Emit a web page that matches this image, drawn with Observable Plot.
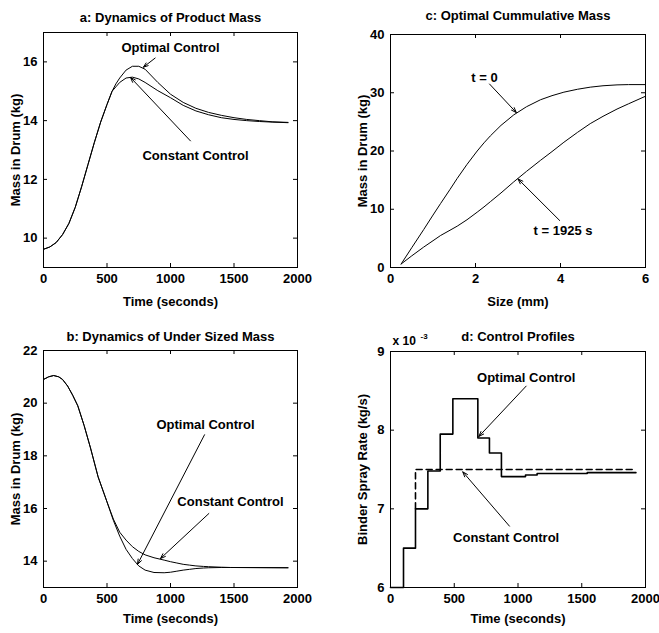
<!DOCTYPE html>
<html><head><meta charset="utf-8">
<script src="https://cdn.jsdelivr.net/npm/d3@7"></script>
<script src="https://cdn.jsdelivr.net/npm/@observablehq/plot@0.6"></script>
<style>
body{margin:0;background:#fff;}
#chart{position:relative;width:659px;height:633px;font-family:"Liberation Sans",Arial,sans-serif;}
</style></head><body><div id="chart"></div>
<script>
// ---------- Panel a: Dynamics of Product Mass ----------
const timeA = [0,50,100,150,200,250,300,350,400,450,500,540,570,600,650,700,750,800,900,1000,1100,1200,1300,1400,1500,1600,1700,1800,1925];
const massA_optimal = [9.62,9.70,9.85,10.12,10.5,11.05,11.75,12.5,13.25,13.95,14.55,15.0,15.25,15.45,15.72,15.85,15.85,15.75,15.3,14.9,14.62,14.42,14.28,14.18,14.1,14.04,14.0,13.96,13.94];
const massA_constant = [9.62,9.70,9.85,10.12,10.5,11.05,11.75,12.5,13.25,13.95,14.55,15.0,15.15,15.3,15.45,15.48,15.42,15.3,15.02,14.78,14.52,14.33,14.2,14.1,14.04,14.0,13.97,13.95,13.93];
const ticksTime = [0,500,1000,1500,2000];
const ticksA_y = [10,12,14,16];

// ---------- Panel b: Dynamics of Under Sized Mass ----------
const timeB = [0,40,80,120,150,190,230,270,320,370,430,500,550,600,650,700,750,800,870,950,1000,1050,1100,1150,1200,1260,1300,1400,1472,1925];
const massB_optimal = [20.9,21.0,21.05,21.0,20.9,20.65,20.3,19.9,19.15,18.3,17.2,16.25,15.55,14.95,14.45,14.1,13.82,13.66,13.57,13.56,13.58,13.62,13.66,13.69,13.72,13.74,13.75,13.76,13.76,13.75];
const massB_constant = [20.9,21.0,21.05,21.0,20.9,20.65,20.3,19.9,19.15,18.3,17.2,16.25,15.6,15.1,14.8,14.55,14.37,14.24,14.13,14.04,13.98,13.93,13.88,13.85,13.82,13.8,13.79,13.77,13.76,13.75];
const ticksB_y = [14,16,18,20,22];

// ---------- Panel c: Optimal Cummulative Mass ----------
const sizeC = [0.25,0.5,0.78,1.0,1.18,1.4,1.57,1.8,2.04,2.2,2.35,2.6,2.9,3.2,3.53,3.8,4.08,4.4,4.7,5.0,5.33,5.6,6.0];
const massC_t0 = [0.6,3.4,6.5,9.0,11.0,13.4,15.3,17.7,20.0,21.4,22.6,24.4,26.2,27.6,28.8,29.5,30.1,30.6,30.96,31.2,31.35,31.4,31.4];
const massC_t1925 = [0.6,2.0,3.5,4.6,5.5,6.4,7.1,8.2,9.5,10.4,11.3,12.8,14.7,16.5,18.4,19.9,21.5,23.2,24.7,25.95,27.2,28.1,29.4];
const ticksC_x = [0,2,4,6];
const ticksC_y = [0,10,20,30,40];

// ---------- Panel d: Control Profiles (x 10^-3 kg/s) ----------
const timeD_optimal = [0,102,196,293,390,489,685,776,870,1059,1150,1543,1925];
const rateD_optimal = [6.0,6.5,7.0,7.48,7.95,8.4,7.9,7.71,7.41,7.43,7.45,7.46,7.46];
const timeD_constant = [196,196,1925];
const rateD_constant = [7.0,7.5,7.5];
const ticksD_y = [6,7,8,9];

// ---------- Annotations (data units) ----------
const labelsA = [{x:1000,y:16.48,t:"Optimal Control"},{x:1197,y:12.8,t:"Constant Control"}];
const arrowsA = [{x1:879,y1:16.13,x2:787,y2:15.82},{x1:1157,y1:13.31,x2:685,y2:15.47}];
const labelsB = [{x:1276,y:19.17,t:"Optimal Control"},{x:1472,y:16.26,t:"Constant Control"}];
const arrowsB = [{x1:1268,y1:18.8,x2:740,y2:13.88},{x1:1302,y1:15.81,x2:921,y2:14.1}];
const labelsC = [{x:2.21,y:32.6,t:"t = 0"},{x:4.06,y:6.35,t:"t = 1925 s"}];
const arrowsC = [{x1:2.33,y1:31.5,x2:2.96,y2:26.6},{x1:3.98,y1:8.07,x2:3.0,y2:15.2}];
const labelsD = [{x:1064,y:8.66,t:"Optimal Control"},{x:907,y:6.63,t:"Constant Control"}];
const arrowsD = [{x1:1064,y1:8.56,x2:693,y2:7.92},{x1:933,y1:6.78,x2:567,y2:7.47}];

const FONT = "Liberation Sans, Arial, sans-serif";
const FS = 13;

function series(xs, ys) { return xs.map((x, i) => ({x, y: ys[i]})); }

function panel(o) {
  const innerW = o.width - o.ml - o.mr;
  const innerH = o.height - o.mt - o.mb;
  const fmt = d => String(d);
  const marks = [
    Plot.frame({stroke: "#000", strokeWidth: 1}),
    // inward ticks on all four sides (MATLAB box style)
    Plot.tickX(o.xticks, {x: d => d, insetTop: innerH - 4, stroke: "#000"}),
    Plot.tickX(o.xticks, {x: d => d, insetBottom: innerH - 4, stroke: "#000"}),
    Plot.tickY(o.yticks, {y: d => d, insetRight: innerW - 4, stroke: "#000"}),
    Plot.tickY(o.yticks, {y: d => d, insetLeft: innerW - 4, stroke: "#000"}),
    Plot.axisX(o.xticks, {anchor: "bottom", tickSize: 0, tickPadding: 6, tickFormat: fmt, label: null, fontSize: FS}),
    Plot.axisY(o.yticks, {anchor: "left", tickSize: 0, tickPadding: 6, tickFormat: fmt, label: null, fontSize: FS}),
    Plot.text([o.title], {frameAnchor: "top", dy: -o.titleGap, fontSize: FS, lineAnchor: "middle"}),
    Plot.text([o.xlabel], {frameAnchor: "bottom", dy: o.xlabelGap, fontSize: FS, lineAnchor: "middle", textAnchor: "middle"}),
    Plot.text([o.ylabel], {frameAnchor: "left", dx: -28, rotate: -90, fontSize: FS, lineAnchor: "middle", textAnchor: "middle"}),
    ...o.marks,
    Plot.arrow(o.arrows, {x1: "x1", y1: "y1", x2: "x2", y2: "y2", stroke: "#000", strokeWidth: 1, headLength: 8, headAngle: 40}),
    Plot.text(o.labels, {x: "x", y: "y", text: "t", fontSize: FS, fill: "#000"})
  ];
  const svg = Plot.plot({
    width: o.width, height: o.height,
    marginLeft: o.ml, marginRight: o.mr, marginTop: o.mt, marginBottom: o.mb,
    style: {fontFamily: FONT, fontSize: FS + "px", fontWeight: "bold", color: "#000", background: "transparent", overflow: "visible"},
    x: {domain: o.xdomain},
    y: {domain: o.ydomain},
    marks
  });
  svg.style.position = "absolute";
  svg.style.left = o.left + "px";
  svg.style.top = o.top + "px";
  document.getElementById("chart").appendChild(svg);
}

const lineStyle = {x: "x", y: "y", stroke: "#000", strokeWidth: 1};

panel({
  left: 0, top: 0, width: 329, height: 316, ml: 43, mr: 32, mt: 32, mb: 49,
  xdomain: [0, 2000], ydomain: [9, 17], xticks: ticksTime, yticks: ticksA_y,
  title: "a: Dynamics of Product Mass", titleGap: 15, xlabelGap: 34,
  xlabel: "Time (seconds)", ylabel: "Mass in Drum (kg)",
  marks: [
    Plot.line(series(timeA, massA_optimal), lineStyle),
    Plot.line(series(timeA, massA_constant), lineStyle)
  ],
  arrows: arrowsA, labels: labelsA
});

panel({
  left: 329, top: 0, width: 330, height: 316, ml: 61, mr: 14, mt: 34, mb: 49,
  xdomain: [0, 6], ydomain: [0, 40], xticks: ticksC_x, yticks: ticksC_y,
  title: "c: Optimal Cummulative Mass", titleGap: 19, xlabelGap: 34,
  xlabel: "Size (mm)", ylabel: "Mass in Drum (kg)",
  marks: [
    Plot.line(series(sizeC, massC_t0), lineStyle),
    Plot.line(series(sizeC, massC_t1925), lineStyle)
  ],
  arrows: arrowsC, labels: labelsC
});

panel({
  left: 0, top: 316, width: 329, height: 317, ml: 43, mr: 32, mt: 34, mb: 46,
  xdomain: [0, 2000], ydomain: [13, 22], xticks: ticksTime, yticks: ticksB_y,
  title: "b: Dynamics of Under Sized Mass", titleGap: 14, xlabelGap: 31,
  xlabel: "Time (seconds)", ylabel: "Mass in Drum (kg)",
  marks: [
    Plot.line(series(timeB, massB_optimal), lineStyle),
    Plot.line(series(timeB, massB_constant), lineStyle)
  ],
  arrows: arrowsB, labels: labelsB
});

panel({
  left: 329, top: 316, width: 330, height: 317, ml: 61, mr: 14, mt: 35, mb: 46,
  xdomain: [0, 2000], ydomain: [6, 9], xticks: ticksTime, yticks: ticksD_y,
  title: "d: Control Profiles", titleGap: 15, xlabelGap: 31,
  xlabel: "Time (seconds)", ylabel: "Binder Spray Rate (kg/s)",
  marks: [
    Plot.line(series(timeD_optimal, rateD_optimal), {x: "x", y: "y", stroke: "#000", strokeWidth: 1.6, curve: "step-after"}),
    Plot.line(series(timeD_constant, rateD_constant), {x: "x", y: "y", stroke: "#000", strokeWidth: 1.6, strokeDasharray: "6,4"}),
    Plot.text(["x 10"], {frameAnchor: "top-left", dx: 2, dy: -10, textAnchor: "start", fontSize: 12, lineAnchor: "middle"}),
    Plot.text(["-3"], {frameAnchor: "top-left", dx: 30, dy: -15, textAnchor: "start", fontSize: 8, lineAnchor: "middle"})
  ],
  arrows: arrowsD, labels: labelsD
});
</script></body></html>
